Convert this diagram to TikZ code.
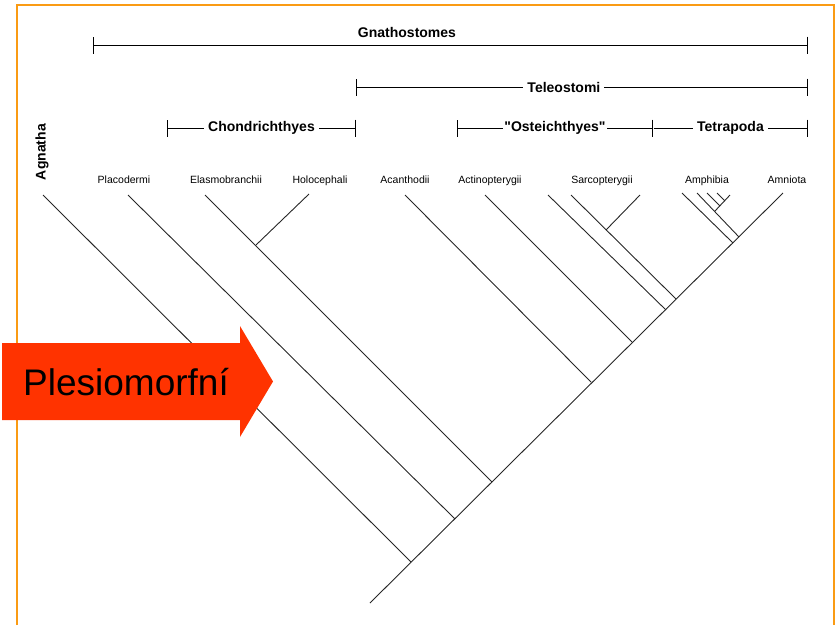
\documentclass[tikz,border=0pt]{standalone}
\usepackage{fontspec}
\setmainfont{Liberation Sans}
\usepackage{tikz}
\usetikzlibrary{arrows.meta, positioning, calc}
\definecolor{frameorange}{RGB}{250,155,20}
\definecolor{plesiored}{RGB}{255,51,0}
\newcommand{\straightquote}{\XeTeXglyph\XeTeXcharglyph"22\relax}

\begin{document}
\begin{tikzpicture}[
    x=1pt, y=-1pt,
    frame/.style  = {draw=frameorange, line width=2pt},
    branch/.style = {draw=black!85, line width=0.9pt},
    taxon/.style  = {font=\fontsize{10.5}{12}\selectfont, anchor=base, inner sep=0pt},
    title/.style  = {font=\fontsize{14}{16}\selectfont\bfseries, inner sep=0pt},
    clade/.style  = {title, fill=white, inner sep=4pt},
    span/.style   = {line width=0.9pt, {Bar[width=17pt]}-{Bar[width=17pt]}},
    plesio/.style = {fill=plesiored},
]
\useasboundingbox (0,0) rectangle (839,625);

% ---- slide frame ----
\draw[frame] (17,625) -- (17,5) -- (834,5) -- (834,625);

% ---- clade brackets ----
\coordinate (gn-l) at (93,45);   \coordinate (gn-r) at (808,45);
\coordinate (te-l) at (356,87);  \coordinate (te-r) at (808,87);
\coordinate (ch-l) at (167,128); \coordinate (ch-r) at (356,128);
\coordinate (os-l) at (457,128); \coordinate (os-r) at (653,128);
\coordinate (tp-r) at (808,128);

\draw[span] (gn-l) -- (gn-r);
\node[title, anchor=base] (gnatho) at (407,37) {Gnathostomes};
\draw[span] (te-l) -- node[clade, pos=0.46] (teleo) {Teleostomi} (te-r);
\draw[span] (ch-l) -- node[clade] (chondro) {Chondrichthyes} (ch-r);
\draw[span] (os-l) -- node[clade, inner xsep=1.5pt] (osteo) {\straightquote Osteichthyes\straightquote} (os-r);
\draw[span, {Bar[width=0pt]}-{Bar[width=17pt]}] (os-r) -- node[clade] (tetra) {Tetrapoda} (tp-r);

% ---- taxon labels ----
\node[title, rotate=90] (agnatha) at (42,152) {Agnatha};
\node[taxon] (placo)  at (124,183) {Placodermi};
\node[taxon] (elasmo) at (226,183) {Elasmobranchii};
\node[taxon] (holo)   at (320,183) {Holocephali};
\node[taxon] (acanth) at (405,183) {Acanthodii};
\node[taxon] (actino) at (490,183) {Actinopterygii};
\node[taxon] (sarco)  at (602,183) {Sarcopterygii};
\node[taxon] (amphi)  at (707,183) {Amphibia};
\node[taxon] (amnio)  at (787,183) {Amniota};

% ---- branch tips and junctions ----
\coordinate (root)   at (370,603);
\coordinate (amn-t)  at (783,193);
\coordinate (agn-t)  at (43,195);  \coordinate (agn-j)  at (411,562);
\coordinate (pla-t)  at (128,195); \coordinate (pla-j)  at (455,519);
\coordinate (ela-t)  at (205,195); \coordinate (ela-j)  at (492,482);
\coordinate (hol-t)  at (309,194); \coordinate (hol-j)  at (256,245);
\coordinate (aca-t)  at (405,195); \coordinate (aca-j)  at (591,382);
\coordinate (act-t)  at (485,195); \coordinate (act-j)  at (632,342);
\coordinate (sa1-t)  at (548,195); \coordinate (sa1-j)  at (666,310);
\coordinate (sa2-t)  at (571,195); \coordinate (sa2-j)  at (676,299);
\coordinate (sa3-t)  at (640,195); \coordinate (sa3-j)  at (606,230);
\coordinate (am1-t)  at (682,193); \coordinate (am1-j)  at (733,243);
\coordinate (am2-t)  at (697,193); \coordinate (am2-j)  at (739,237);
\coordinate (am3-t)  at (730,195); \coordinate (am3-j)  at (715,211);
\coordinate (am4-t)  at (707,193); \coordinate (am4-j)  at (720,206);
\coordinate (am5-t)  at (717,193); \coordinate (am5-j)  at (725,201);

% ---- tree ----
\draw[branch] (root)  -- (amn-t);
\draw[branch] (agn-t) -- (agn-j);
\draw[branch] (pla-t) -- (pla-j);
\draw[branch] (ela-t) -- (ela-j);
\draw[branch] (hol-t) -- (hol-j);
\draw[branch] (aca-t) -- (aca-j);
\draw[branch] (act-t) -- (act-j);
\draw[branch] (sa1-t) -- (sa1-j);
\draw[branch] (sa2-t) -- (sa2-j);
\draw[branch] (sa3-t) -- (sa3-j);
\draw[branch] (am1-t) -- (am1-j);
\draw[branch] (am2-t) -- (am2-j);
\draw[branch] (am3-t) -- (am3-j);
\draw[branch] (am4-t) -- (am4-j);
\draw[branch] (am5-t) -- (am5-j);

% ---- plesiomorphic callout ----
\fill[plesio] (2,343) -- (240,343) -- (240,326) -- (273,381.5)
              -- (240,437) -- (240,420) -- (2,420) -- cycle;
\node[font=\fontsize{37}{40}\selectfont, anchor=base west, inner sep=0pt]
     (plesiotext) at (23,395) {Plesiomorfní};

\end{tikzpicture}
\end{document}
